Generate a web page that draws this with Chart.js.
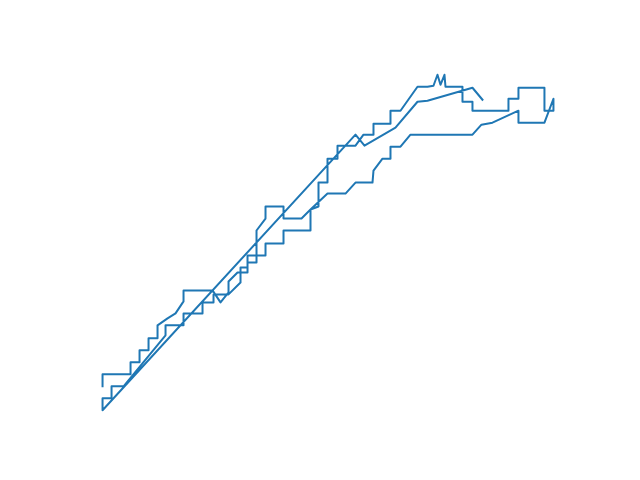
<!DOCTYPE html>
<html>
<head>
<meta charset="utf-8">
<script src="https://cdn.jsdelivr.net/npm/chart.js@4.4.1/dist/chart.umd.min.js"></script>
<style>
  html, body { margin: 0; padding: 0; background: #ffffff; }
  #wrap { width: 640px; height: 480px; }
</style>
</head>
<body>
<div id="wrap"><canvas id="c" width="640" height="480"></canvas></div>
<script>
// Path values (x, y), in drawing order
const xValues = [
  0, 0, 2.8, 2.8, 3.7, 3.7, 4.6, 4.6, 5.5, 5.5, 6.5, 7.3, 8.1, 8.1, 11.0, 11.8, 12.6, 12.6, 13.5, 14.5,
  14.5, 15.4, 15.4, 16.3, 16.3, 18.1, 18.1, 19.9, 20.8, 21.6, 21.6, 22.5, 22.5, 23.5, 23.5, 25.3, 26.1, 27.1, 27.1, 28.8,
  28.8, 29.8, 31.5, 32.5, 33.1, 33.5, 33.8, 34.2, 34.3, 36.0, 36.0, 37.0, 37.0, 40.6, 40.6, 41.6, 41.6, 44.2, 44.2, 45.1,
  45.1, 44.2, 41.6, 41.6, 39.0, 37.9, 37.0, 30.8, 29.8, 28.8, 28.8, 28.0, 27.1, 27.0, 25.3, 24.3, 22.5, 20.8, 20.8, 18.1,
  18.1, 16.3, 16.3, 14.5, 14.5, 13.8, 13.8, 12.6, 11.1, 11.1, 10.0, 10.0, 8.1, 8.1, 6.3, 6.3, 2.1, 0.9, 0.9, 0,
  0, 25.3, 26.2, 29.3, 31.5, 32.5, 37.0, 38.0
];
const yValues = [
  2.4, 3.6, 3.6, 4.8, 4.8, 6.0, 6.0, 7.2, 7.2, 8.5, 9.2, 9.7, 10.9, 12.0, 12.0, 10.8, 11.8, 12.9, 13.8, 13.8,
  14.8, 14.8, 18.0, 19.2, 20.4, 20.4, 19.2, 19.2, 20.1, 20.4, 22.8, 22.8, 25.2, 25.2, 26.5, 26.5, 27.6, 27.6, 28.7, 28.7,
  30.0, 30.0, 32.4, 32.4, 32.5, 33.6, 32.6, 33.6, 32.4, 32.4, 30.9, 30.9, 30.0, 30.0, 31.2, 31.2, 32.3, 32.3, 30.0, 30.0,
  31.2, 28.8, 28.8, 30.0, 28.8, 28.6, 27.6, 27.6, 26.4, 26.4, 25.2, 25.2, 24.0, 22.8, 22.8, 21.7, 21.7, 20.1, 18.0, 18.0,
  16.7, 16.7, 15.5, 15.5, 14.3, 14.3, 12.8, 11.6, 11.6, 10.8, 10.8, 9.7, 9.7, 8.5, 8.5, 7.5, 2.4, 2.4, 1.2, 1.2,
  0, 27.6, 26.5, 28.3, 30.9, 31.0, 32.3, 31.1
];

const points = xValues.map((x, i) => ({ x: x, y: yValues[i] }));

function paddedRange(vals) {
  const lo = Math.min(...vals), hi = Math.max(...vals);
  const m = (hi - lo) * 0.05;
  return [lo - m, hi + m];
}
const [xMin, xMax] = paddedRange(xValues);
const [yMin, yMax] = paddedRange(yValues);

new Chart(document.getElementById('c'), {
  type: 'scatter',
  data: {
    datasets: [{
      data: points,
      showLine: true,
      borderColor: '#1f77b4',
      backgroundColor: '#1f77b4',
      borderWidth: 2,
      pointRadius: 0,
      pointHoverRadius: 0,
      tension: 0,
      fill: false,
      borderJoinStyle: 'round',
      borderCapStyle: 'square',
      clip: false
    }]
  },
  options: {
    responsive: false,
    devicePixelRatio: 1,
    animation: false,
    layout: { padding: { left: 80, right: 64, top: 58, bottom: 53 } },
    plugins: { legend: { display: false }, tooltip: { enabled: false }, title: { display: false } },
    scales: {
      x: { type: 'linear', min: xMin, max: xMax, display: false },
      y: { type: 'linear', min: yMin, max: yMax, display: false }
    },
    events: []
  }
});
</script>
</body>
</html>
